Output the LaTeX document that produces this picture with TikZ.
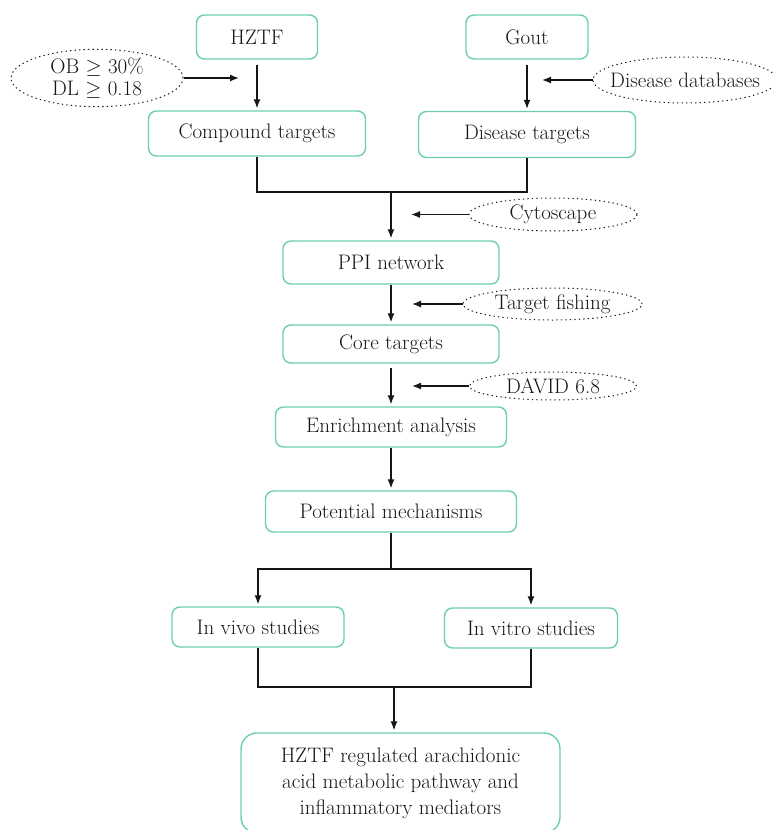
\documentclass[tikz,border=0pt]{standalone}
\usepackage{amsmath,amssymb}
\usepackage{tikz}
\usetikzlibrary{arrows.meta,positioning,shapes.geometric}
\definecolor{boxgreen}{HTML}{6DCFA9}
\definecolor{ink}{HTML}{161616}

\tikzset{
  stepbox/.style={draw=boxgreen,line width=1.4pt,rounded corners=8pt,text=ink,inner sep=0pt,align=center},
  toolnode/.style={ellipse,draw=ink,line width=1pt,dash pattern=on 1.3pt off 3.2pt,inner sep=0pt,text=ink,align=center},
  flow/.style={draw=ink,line width=1.3pt,-{Latex[length=9pt,width=7pt]},shorten >=2pt},
  link/.style={draw=ink,line width=1.3pt},
}

\begin{document}
\begin{tikzpicture}[x=1pt,y=-1pt,font=\fontsize{21}{26}\selectfont]
\useasboundingbox (0,0) rectangle (773,830);
% top row
\node[stepbox,minimum width=121pt,minimum height=44pt] (hztf) at (257,37) {HZTF};
\node[stepbox,minimum width=122pt,minimum height=44pt] (gout) at (527,37) {Gout};
\node[stepbox,minimum width=217pt,minimum height=45pt] (comp) at (257,133.5) {Compound targets};
\node[stepbox,minimum width=217pt,minimum height=46pt] (dis) at (527,134.5) {Disease targets};
\node[toolnode,minimum width=172pt,minimum height=44pt,font=\fontsize{21}{22}\selectfont] (ob) at (97,78) {OB $\geq$ 30\%\\DL $\geq$ 0.18};
\node[toolnode,inner xsep=-10pt,minimum width=184pt,minimum height=46pt] (dbase) at (685,80) {Disease databases};
\coordinate (obtip) at (241,78);
\coordinate (dbtip) at (540,80);
\draw[flow,shorten <=5pt] (hztf.south) -- (comp.north);
\draw[flow,shorten <=5pt] (gout.south) -- (dis.north);
\draw[flow] (ob.east) -- (obtip);
\draw[flow] (dbase.west) -- (dbtip);

% middle chain
\coordinate (join) at (391,192);
\node[stepbox,minimum width=216pt,minimum height=43pt] (ppi) at (391,262.5) {PPI network};
\node[stepbox,minimum width=216pt,minimum height=38pt] (core) at (391,344) {Core targets};
\node[stepbox,minimum width=231pt,minimum height=40pt] (enrich) at (391,427) {Enrichment analysis};
\node[stepbox,minimum width=251pt,minimum height=41pt] (pot) at (391,511.5) {Potential mechanisms};
\node[toolnode,minimum width=168pt,minimum height=33pt] (cyto) at (553,214.5) {Cytoscape};
\node[toolnode,minimum width=179pt,minimum height=32pt] (fish) at (552.5,304) {Target fishing};
\node[toolnode,minimum width=167pt,minimum height=28pt] (david) at (553,386) {DAVID 6.8};
\coordinate (cytotip) at (409,214.5);
\coordinate (fishtip) at (410,304);
\coordinate (davidtip) at (410,386);
\draw[link] (comp.south) |- (join) -| (dis.south);
\draw[flow] (join) -- (ppi.north);
\draw[flow] (ppi.south) -- (core.north);
\draw[flow,shorten <=4pt] (core.south) -- (enrich.north);
\draw[flow] (enrich.south) -- (pot.north);
\draw[flow] (cyto.west) -- (cytotip);
\draw[flow] (fish.west) -- (fishtip);
\draw[flow] (david.west) -- (davidtip);

% studies
\coordinate (split) at (391,569);
\coordinate (merge) at (394,687);
\node[stepbox,minimum width=172pt,minimum height=40pt] (vivo) at (258,627) {In vivo studies};
\node[stepbox,minimum width=173pt,minimum height=40pt] (vitro) at (531,628) {In vitro studies};
\node[stepbox,rounded corners=16pt,minimum width=319pt,minimum height=100pt] (final) at (400.5,783)
  {HZTF regulated arachidonic\\acid metabolic pathway and\\inflammatory mediators};
\draw[link] (pot.south) -- (split);
\draw[flow] (split) -| (vivo.north);
\draw[flow] (split) -| (vitro.north);
\draw[link] (vivo.south) |- (merge) -| (vitro.south);
\draw[flow] (merge) -- (merge |- final.north);
\end{tikzpicture}
\end{document}
